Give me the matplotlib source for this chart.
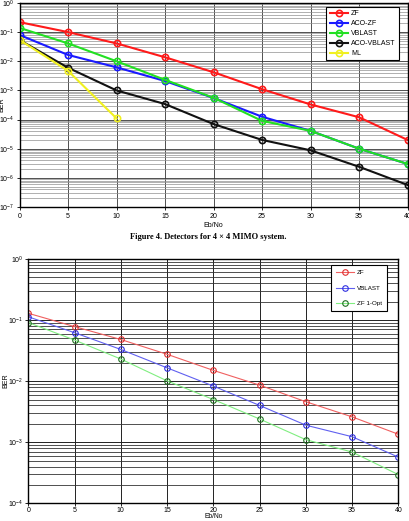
import numpy as np
import matplotlib
matplotlib.use("Agg")
import matplotlib.pyplot as plt
from matplotlib.ticker import LogLocator, NullFormatter

plt.rcParams['font.family'] = ['Liberation Sans', 'DejaVu Sans']
plt.rcParams['mathtext.fontset'] = 'custom'
plt.rcParams['mathtext.rm'] = 'Liberation Sans'

snr = [0, 5, 10, 15, 20, 25, 30, 35, 40]

# Top chart: Detectors for 4x4 MIMO
zf_top = [0.22, 0.10, 0.041, 0.0137, 0.0042, 0.0011, 3.3e-4, 1.2e-4, 2.0e-5]
aco_zf = [0.08, 0.0165, 0.0062, 0.0021, 5.5e-4, 1.25e-4, 4.1e-5, 1.0e-5, 3.0e-6]
vblast_top = [0.14, 0.041, 0.010, 0.0023, 5.6e-4, 9.0e-5, 4.1e-5, 1.0e-5, 3.0e-6]
aco_vblast = [0.054, 0.006, 0.001, 3.4e-4, 7.0e-5, 2.0e-5, 8.8e-6, 2.4e-6, 5.7e-7]
ml_snr = [0, 5, 10]
ml = [0.054, 0.0047, 1.1e-4]

# Bottom chart
zf_bot = [0.129, 0.078, 0.048, 0.0275, 0.015, 0.0086, 0.0046, 0.0026, 0.00135]
vblast_bot = [0.113, 0.062, 0.033, 0.0165, 0.0083, 0.0040, 0.0019, 0.00123, 5.7e-4]
zf1opt = [0.091, 0.047, 0.023, 0.0101, 0.0050, 0.0024, 0.0011, 6.9e-4, 2.95e-4]

fig = plt.figure(figsize=(4.10, 5.21), dpi=100)

# ---------- top axes ----------
ax1 = fig.add_axes([0.0476, 0.6027, 0.9464, 0.3916])
ax1.set_yscale('log')
ax1.set_xlim(0, 40)
ax1.set_ylim(1e-7, 1)
ax1.set_xticks(range(0, 41, 5))
ax1.yaxis.set_major_locator(LogLocator(base=10, numticks=20))
ax1.yaxis.set_minor_locator(LogLocator(base=10, subs=np.arange(2, 10), numticks=20))
ax1.yaxis.set_minor_formatter(NullFormatter())
ax1.grid(True, which='major', color='#333333', lw=0.6)
ax1.grid(True, which='minor', axis='y', color='#909090', lw=0.5)
ax1.set_axisbelow(True)
kw = dict(marker='o', mfc='none', ms=4.5, lw=1.5, mew=1.2)
ax1.plot(snr, zf_top, color='#ff1a1a', label='ZF', **kw)
ax1.plot(snr, aco_zf, color='#1a1aff', label='ACO-ZF', **kw)
ax1.plot(snr, vblast_top, color='#22e022', label='VBLAST', **kw)
ax1.plot(snr, aco_vblast, color='#111111', label='ACO-VBLAST', **kw)
ax1.plot(ml_snr, ml, color='#f0f020', label='ML', **kw)
ax1.tick_params(labelsize=5, length=2, width=0.6, pad=2)
ax1.tick_params(which='minor', length=0)
for s in ax1.spines.values():
    s.set_linewidth(1.0)
ax1.set_xlabel('Eb/No', fontsize=5, labelpad=2)
ax1.set_ylabel('BER', fontsize=5)
ax1.yaxis.set_label_coords(-0.036, 0.5)
leg1 = ax1.legend(loc='upper right', fontsize=5, frameon=True, fancybox=False,
                  edgecolor='black', framealpha=1, handlelength=2.6,
                  handletextpad=0.5, borderpad=0.5, labelspacing=0.42,
                  borderaxespad=0, bbox_to_anchor=(0.978, 0.981))
leg1.get_frame().set_linewidth(0.8)

fig.text(0.508, 0.545, 'Figure 4. Detectors for 4 × 4 MIMO system.',
         ha='center', va='center', fontsize=6, fontweight='bold',
         family=['Liberation Serif', 'DejaVu Serif'])

# ---------- bottom axes ----------
ax2 = fig.add_axes([0.069, 0.034, 0.9025, 0.469])
ax2.set_yscale('log')
ax2.set_xlim(0, 40)
ax2.set_ylim(1e-4, 1)
ax2.set_xticks(range(0, 41, 5))
ax2.yaxis.set_major_locator(LogLocator(base=10, numticks=20))
ax2.yaxis.set_minor_locator(LogLocator(base=10, subs=np.arange(2, 10), numticks=20))
ax2.yaxis.set_minor_formatter(NullFormatter())
ax2.grid(True, which='major', color='#222222', lw=0.7)
ax2.grid(True, which='minor', axis='y', color='#333333', lw=0.6)
ax2.set_axisbelow(True)
kw2 = dict(marker='o', mfc='none', ms=4, lw=0.8, mew=0.8)
ax2.plot(snr, zf_bot, color='#f06060', mec='#e03030', label='ZF', **kw2)
ax2.plot(snr, vblast_bot, color='#6060f0', mec='#3030e0', label='VBLAST', **kw2)
ax2.plot(snr, zf1opt, color='#80ee80', mec='#207020', label='ZF 1-Opt', **kw2)
ax2.tick_params(labelsize=5, length=2, width=0.6, pad=1.5)
ax2.tick_params(axis='x', pad=0.8)
ax2.tick_params(which='minor', length=0)
for s in ax2.spines.values():
    s.set_linewidth(1.0)
ax2.set_xlabel('Eb/No', fontsize=4.8)
ax2.xaxis.set_label_coords(0.5, -0.041)
ax2.set_ylabel('BER', fontsize=5)
ax2.yaxis.set_label_coords(-0.052, 0.5)
leg2 = ax2.legend(loc='upper right', fontsize=4.5, frameon=True, fancybox=False,
                  edgecolor='black', framealpha=1, handlelength=2.8,
                  handletextpad=0.5, borderpad=0.8, labelspacing=1.6,
                  borderaxespad=0, bbox_to_anchor=(0.969, 0.975))
leg2.get_frame().set_linewidth(0.8)

fig.savefig('out.png', dpi=100)
